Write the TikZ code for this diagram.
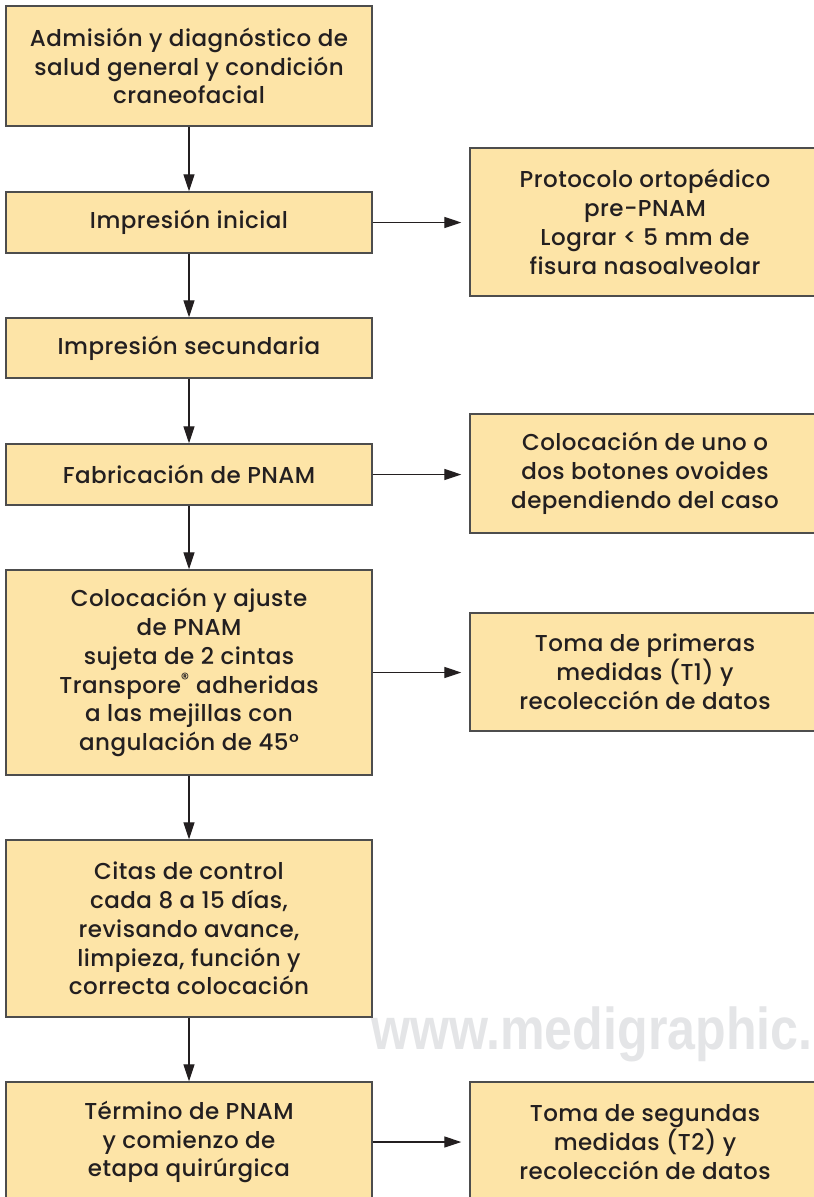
\documentclass[tikz,border=0pt]{standalone}
\usepackage{fontspec}
\setmainfont{Poppins Medium}[LetterSpace=2]
\newfontfamily\wmfont{Liberation Sans}
\usetikzlibrary{arrows.meta}
\definecolor{boxfill}{RGB}{253,228,167}
\definecolor{boxline}{RGB}{77,77,77}
\definecolor{arr}{RGB}{35,31,32}
\definecolor{wm}{RGB}{228,229,231}
\begin{document}
\begin{tikzpicture}[x=1pt,y=-1pt,
  box/.style={draw=boxline, line width=1.4pt, fill=boxfill, inner sep=0pt, align=center,
    font=\fontsize{23}{28.8}\selectfont, text=arr},
  lbox/.style={box, minimum width=366pt},
  rbox/.style={box, minimum width=350pt},
  conn/.style={draw=arr, line width=1.3pt, -{Triangle[length=17pt,width=11pt]}},
  hconn/.style={conn, shorten >=8pt}]
\useasboundingbox (0,0) rectangle (814,1197);
\node[anchor=base west, inner sep=0pt, text=wm, font=\wmfont\bfseries\fontsize{59}{59}\selectfont] (wmk) at (371,1049) {\scalebox{0.85}[1]{www.medigraphic.}};

\node[lbox, minimum height=120pt] (a) at (189,66) {Admisión y diagnóstico de\\salud general y condición\\craneofacial};
\node[lbox, minimum height=61pt] (b) at (189,222.5) {Impresión inicial};
\node[rbox, minimum height=148pt] (p) at (645,222) {Protocolo ortopédico\\pre-PNAM\\Lograr < 5 mm de\\fisura nasoalveolar};
\node[lbox, minimum height=60pt] (c) at (189,348) {Impresión secundaria};
\node[lbox, minimum height=61pt] (d) at (189,474.5) {Fabricación de PNAM};
\node[rbox, minimum height=119pt] (q) at (645,473.5) {Colocación de uno o\\dos botones ovoides\\dependiendo del caso};
\node[lbox, minimum height=205pt] (e) at (189,672.5) {Colocación y ajuste\\de PNAM\\sujeta de 2 cintas\\Transpore\textsuperscript{®} adheridas\\a las mejillas con\\angulación de 45°};
\node[rbox, minimum height=118pt] (r) at (645,672) {Toma de primeras\\medidas (T1) y\\recolección de datos};
\node[lbox, minimum height=177pt] (f) at (189,928.5) {Citas de control\\cada 8 a 15 días,\\revisando avance,\\limpieza, función y\\correcta colocación};
\node[lbox, minimum height=120pt] (g) at (189,1142) {Término de PNAM\\y comienzo de\\etapa quirúrgica};
\node[rbox, minimum height=120pt] (s) at (645,1142) {Toma de segundas\\medidas (T2) y\\recolección de datos};

\draw[conn] (a) -- (b);
\draw[conn] (b) -- (c);
\draw[conn] (c) -- (d);
\draw[conn] (d) -- (e);
\draw[conn] (e) -- (f);
\draw[conn] (f) -- (g);
\draw[hconn] (b.east) -- (p.west |- b.east);
\draw[hconn] (d.east) -- (q.west |- d.east);
\draw[hconn] (e.east) -- (r.west |- e.east);
\draw[hconn] (g.east) -- (s.west |- g.east);
\end{tikzpicture}
\end{document}
